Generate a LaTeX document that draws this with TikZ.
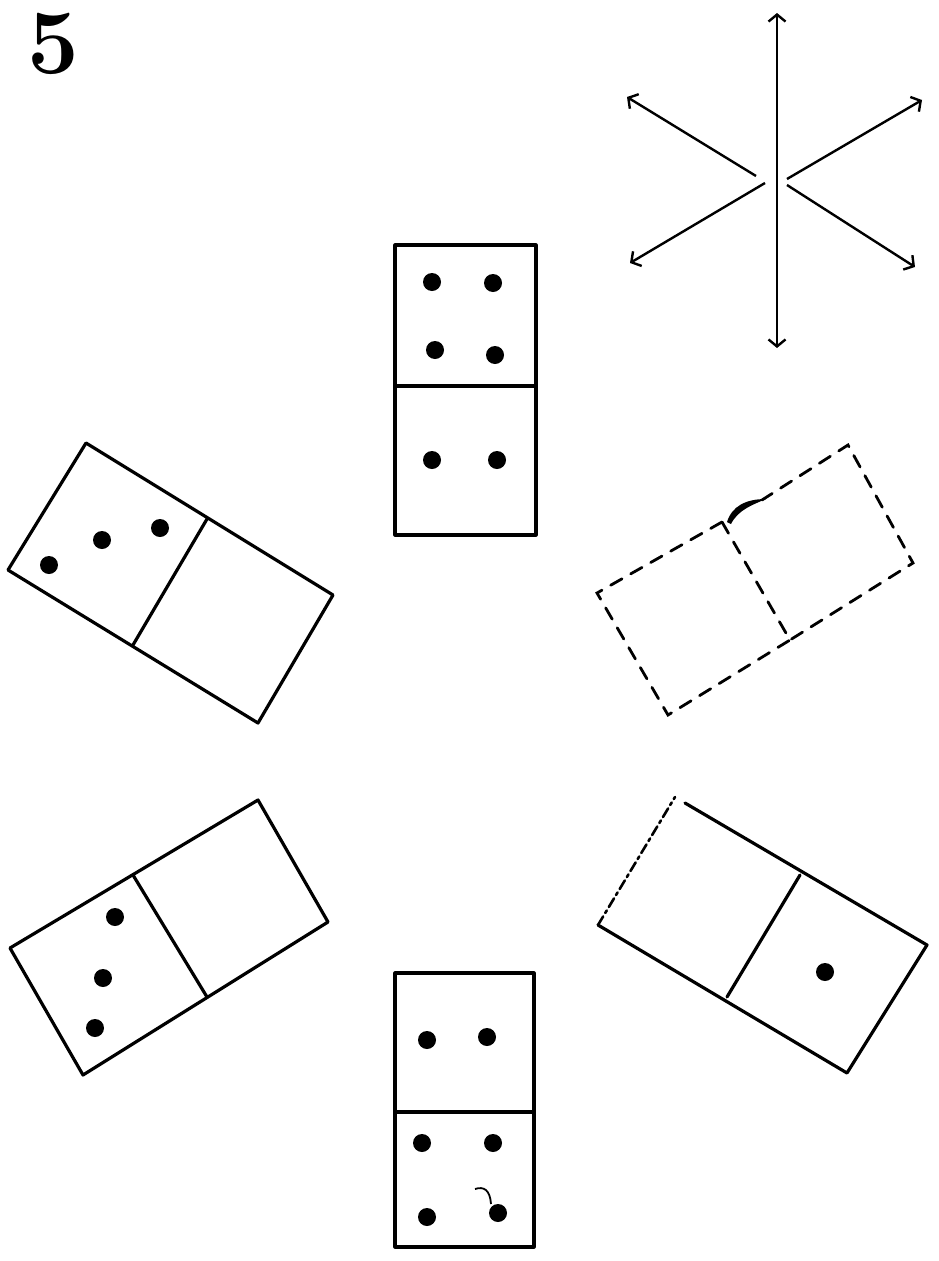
\documentclass[tikz,border=0pt]{standalone}
\usetikzlibrary{arrows.meta}
\begin{document}
\begin{tikzpicture}[x=1pt,y=-1pt,
  edge/.style={line width=3.2pt, line join=round, line cap=round},
  dashedge/.style={line width=2.8pt, line cap=round, dash pattern=on 13pt off 10pt},
  axis/.style={line width=2.4pt, -{Straight Barb[length=7pt,width=17pt,line width=2.4pt]}},
  dblaxis/.style={line width=2.4pt, {Straight Barb[length=7pt,width=17pt,line width=2.4pt]}-{Straight Barb[length=7pt,width=17pt,line width=2.4pt]}}]
\useasboundingbox (0,0) rectangle (939,1261);
\newcommand{\pip}[1]{\fill #1 circle (9);}

% number
\node[font=\fontsize{92}{92}\selectfont\bfseries, inner sep=0pt] (num) at (53,44) {5};

% axes star
\coordinate (c) at (777,182);
\draw[dblaxis] (777,348) -- (777,13);
\draw[axis] (756,176) -- (627,97);
\draw[axis] (765,183) -- (630,263);
\draw[axis] (787,179) -- (922,100);
\draw[axis] (787,185) -- (915,267);

% top domino (4 | 2)
\draw[edge] (395,245) rectangle (536,535);
\draw[edge] (395,386) -- (536,386);
\pip{(432,282)} \pip{(493,283)} \pip{(435,350)} \pip{(495,355)}
\pip{(432,460)} \pip{(497,460)}

% bottom domino (2 | 4)
\draw[edge] (395,973) rectangle (534,1247);
\draw[edge] (395,1112) -- (534,1112);
\pip{(427,1040)} \pip{(487,1037)}
\pip{(422,1143)} \pip{(493,1143)} \pip{(427,1217)} \pip{(498,1213)}
\draw[line width=1.8pt] (475,1189) .. controls (484,1186) and (490,1190) .. (491,1204);

% upper-left domino (3 | 0)
\coordinate (a1) at (86,443); \coordinate (a2) at (333,595);
\coordinate (a3) at (258,723); \coordinate (a4) at (8,570);
\draw[edge] (a1) -- (a2) -- (a3) -- (a4) -- cycle;
\draw[edge] (207,519) -- (133,645);
\pip{(49,565)} \pip{(102,540)} \pip{(160,528)}

% lower-left domino (3 | 0)
\coordinate (b1) at (10,948); \coordinate (b2) at (258,800);
\coordinate (b3) at (328,922); \coordinate (b4) at (83,1075);
\draw[edge] (b1) -- (b2) -- (b3) -- (b4) -- cycle;
\draw[edge] (133,875) -- (207,997);
\pip{(115,917)} \pip{(103,978)} \pip{(95,1028)}

% lower-right domino (0 | 1)
\coordinate (r1) at (675,797); \coordinate (r2) at (927,945);
\coordinate (r3) at (847,1073); \coordinate (r4) at (598,925);
\draw[edge] (685,803) -- (r2) -- (r3) -- (r4);
\draw[edge, line width=2.6pt, dash pattern=on 10pt off 4pt on 3pt off 4pt] (r4) -- (r1);
\draw[edge] (800,875) -- (727,997);
\pip{(825,972)}

% dashed domino
\coordinate (d1) at (597,593); \coordinate (d2) at (848,445);
\coordinate (d3) at (913,563); \coordinate (d4) at (668,715);
\coordinate (m1) at (722,522); \coordinate (m2) at (790,640);
\draw[dashedge] (m1) -- (d1) -- (d4) -- (m2);
\draw[dashedge] (m1) -- (m2) -- (d3) -- (d2) -- (762,500);
\fill (727,522) .. controls (732,506) and (746,499) .. (766,499)
  .. controls (752,505) and (738,510) .. (731,524) -- cycle;
\end{tikzpicture}
\end{document}
